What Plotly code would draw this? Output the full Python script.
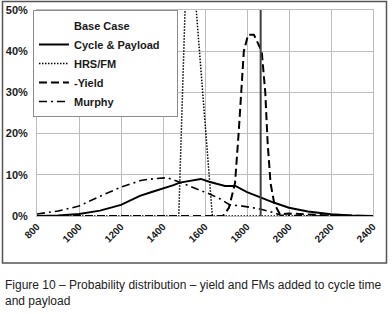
import plotly.graph_objects as go

# ---- data (probability in %) ----
x_cycle = [800, 900, 1000, 1100, 1200, 1290, 1350, 1390, 1450, 1480, 1530, 1580, 1620, 1650, 1695, 1745, 1800, 1870, 1930, 2000, 2090, 2200, 2300, 2400]
cycle = [0.0, 0.1, 0.5, 1.3, 2.7, 4.9, 5.9, 6.5, 7.5, 8.1, 8.6, 9.0, 8.3, 7.9, 7.3, 7.3, 5.8, 4.4, 3.2, 2.0, 1.1, 0.4, 0.1, 0.0]

x_hrs = [800, 1475, 1520, 1635, 2400]
hrs = [0.0, 0.0, 75.0, 0.0, 0.0]

x_yield = [800, 1686, 1714, 1743, 1760, 1771, 1785, 1805, 1833, 1870, 1887, 1898, 1912, 1930, 1957, 2000, 2100, 2200, 2400]
yld = [0.0, 0.0, 2.0, 8.0, 20.0, 30.0, 40.0, 44.0, 44.0, 40.0, 30.0, 18.0, 8.0, 3.0, 0.4, 0.6, 0.3, 0.1, 0.0]

x_murphy = [800, 900, 1000, 1100, 1200, 1300, 1350, 1420, 1480, 1530, 1576, 1624, 1670, 1719, 1780, 1862, 1930, 1960, 2100, 2400]
murphy = [0.5, 1.2, 2.4, 4.8, 7.0, 8.7, 9.0, 9.3, 8.2, 7.2, 6.3, 5.3, 4.2, 2.7, 2.4, 1.7, 0.8, 0.2, 0.0, 0.0]

marker_x = [1865, 1865]
marker_y = [0.0, 60.0]

x_ticks = [800, 1000, 1200, 1400, 1600, 1800, 2000, 2200, 2400]
y_ticks = [0, 10, 20, 30, 40, 50]

legend_title = "Base Case"
names = ["Cycle & Payload", "HRS/FM", "-Yield", "Murphy"]
caption = "Figure 10 – Probability distribution – yield and FMs added to cycle time<br>and payload"

def pct(v):
    return [a / 100.0 for a in v]

fig = go.Figure()
# legend title as a symbol-less entry
fig.add_trace(go.Scatter(x=[None], y=[None], mode="lines", name=legend_title,
                         line=dict(color="rgba(0,0,0,0)", width=0)))
fig.add_trace(go.Scatter(x=x_cycle, y=pct(cycle), mode="lines",
                         name=names[0] + "&nbsp;&nbsp;&nbsp;&nbsp;",
                         line=dict(color="#000000", width=2)))
fig.add_trace(go.Scatter(x=x_hrs, y=pct(hrs), mode="lines", name=names[1],
                         line=dict(color="#000000", width=1.5, dash="1.5px,1.5px")))
fig.add_trace(go.Scatter(x=x_yield, y=pct(yld), mode="lines", name=names[2],
                         line=dict(color="#000000", width=2, dash="8px,4px")))
fig.add_trace(go.Scatter(x=x_murphy, y=pct(murphy), mode="lines", name=names[3],
                         line=dict(color="#000000", width=1.6, dash="8px,4px,2px,4px")))
fig.add_trace(go.Scatter(x=marker_x, y=pct(marker_y), mode="lines", showlegend=False,
                         line=dict(color="#404040", width=2)))

fig.update_layout(
    width=392, height=314,
    margin=dict(l=37, r=19, t=10, b=98, autoexpand=False),
    paper_bgcolor="white", plot_bgcolor="white",
    font=dict(family="Liberation Sans, Arial, sans-serif", color="#1a1a1a"),
    showlegend=True,
    legend=dict(x=-0.012, y=1.0, xanchor="left", yanchor="top",
                bgcolor="white", bordercolor="#8c8c8c", borderwidth=1,
                font=dict(size=11, weight="bold", color="#1a1a1a"),
                itemwidth=30, tracegroupgap=0),
    xaxis=dict(range=[800, 2400], tickvals=x_ticks, tickangle=-45, automargin=False,
               showgrid=True, gridcolor="#bdbdbd", gridwidth=1,
               zeroline=False, showline=True, linecolor="#bdbdbd", mirror=True,
               ticks="", tickfont=dict(size=10, weight="bold", color="#1a1a1a")),
    yaxis=dict(range=[0, 0.5], tickvals=pct(y_ticks), tickformat=".0%", automargin=False,
               showgrid=True, gridcolor="#bdbdbd", gridwidth=1,
               zeroline=False, showline=True, linecolor="#bdbdbd", mirror=True,
               ticks="", ticklabelstandoff=6,
               tickfont=dict(size=11, weight="bold", color="#1a1a1a")),
    shapes=[dict(type="rect", xref="paper", yref="paper",
                 x0=-0.1027, x1=1.0402, y0=-0.2282, y1=1.0413,
                 line=dict(color="#555555", width=1.5), fillcolor="rgba(0,0,0,0)")],
    annotations=[dict(text=caption, xref="paper", yref="paper",
                      x=-0.101, y=-0.29, xanchor="left", yanchor="top",
                      align="left", showarrow=False,
                      font=dict(size=12, color="#222222",
                                family="Liberation Sans, Arial, sans-serif"))],
)

fig.write_html("out.html", config={"displayModeBar": False},
               post_script="document.body.style.margin='0';document.body.style.overflow='hidden';")
